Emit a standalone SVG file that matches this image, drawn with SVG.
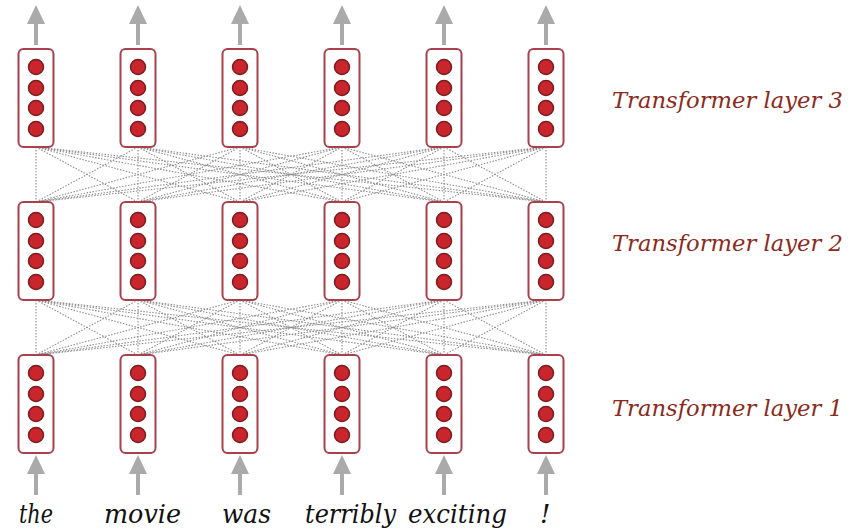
<svg xmlns="http://www.w3.org/2000/svg" width="858" height="530" viewBox="0 0 858 530">
<defs>
<style>
.box{fill:#fff;stroke:#a8414b;stroke-width:2}
.dot{fill:#c8262c;stroke:#7c1c1f;stroke-width:1.5}
.arrow{fill:#aaa}
.conn line{stroke:#8e8e8e;stroke-width:1.1;stroke-dasharray:1.5 1.5;fill:none}
.word{font-family:"DejaVu Serif","Liberation Serif",serif;font-style:italic;font-size:26px;fill:#111}
.label{font-family:"DejaVu Serif","Liberation Serif",serif;font-style:italic;font-size:22px;fill:#8b2a20}
</style>
<g id="vec">
<rect class="box" x="-17.5" y="0" width="35" height="98" rx="5"/>
<circle class="dot" cx="0" cy="18" r="7.5"/>
<circle class="dot" cx="0" cy="39" r="7.5"/>
<circle class="dot" cx="0" cy="59" r="7.5"/>
<circle class="dot" cx="0" cy="80" r="7.5"/>
</g>
<path id="arr" class="arrow" d="M0 0 L9 19 L2 19 L2 40 L-2 40 L-2 19 L-9 19 Z"/>
</defs>
<rect width="858" height="530" fill="#fff"/>

<g id="connectors" class="conn">
<line x1="36" y1="147" x2="36" y2="202"/><line x1="36" y1="147" x2="138" y2="202"/><line x1="36" y1="147" x2="240" y2="202"/><line x1="36" y1="147" x2="342" y2="202"/><line x1="36" y1="147" x2="444" y2="202"/><line x1="36" y1="147" x2="546" y2="202"/>
<line x1="138" y1="147" x2="36" y2="202"/><line x1="138" y1="147" x2="138" y2="202"/><line x1="138" y1="147" x2="240" y2="202"/><line x1="138" y1="147" x2="342" y2="202"/><line x1="138" y1="147" x2="444" y2="202"/><line x1="138" y1="147" x2="546" y2="202"/>
<line x1="240" y1="147" x2="36" y2="202"/><line x1="240" y1="147" x2="138" y2="202"/><line x1="240" y1="147" x2="240" y2="202"/><line x1="240" y1="147" x2="342" y2="202"/><line x1="240" y1="147" x2="444" y2="202"/><line x1="240" y1="147" x2="546" y2="202"/>
<line x1="342" y1="147" x2="36" y2="202"/><line x1="342" y1="147" x2="138" y2="202"/><line x1="342" y1="147" x2="240" y2="202"/><line x1="342" y1="147" x2="342" y2="202"/><line x1="342" y1="147" x2="444" y2="202"/><line x1="342" y1="147" x2="546" y2="202"/>
<line x1="444" y1="147" x2="36" y2="202"/><line x1="444" y1="147" x2="138" y2="202"/><line x1="444" y1="147" x2="240" y2="202"/><line x1="444" y1="147" x2="342" y2="202"/><line x1="444" y1="147" x2="444" y2="202"/><line x1="444" y1="147" x2="546" y2="202"/>
<line x1="546" y1="147" x2="36" y2="202"/><line x1="546" y1="147" x2="138" y2="202"/><line x1="546" y1="147" x2="240" y2="202"/><line x1="546" y1="147" x2="342" y2="202"/><line x1="546" y1="147" x2="444" y2="202"/><line x1="546" y1="147" x2="546" y2="202"/>

<line x1="36" y1="300" x2="36" y2="355"/><line x1="36" y1="300" x2="138" y2="355"/><line x1="36" y1="300" x2="240" y2="355"/><line x1="36" y1="300" x2="342" y2="355"/><line x1="36" y1="300" x2="444" y2="355"/><line x1="36" y1="300" x2="546" y2="355"/>
<line x1="138" y1="300" x2="36" y2="355"/><line x1="138" y1="300" x2="138" y2="355"/><line x1="138" y1="300" x2="240" y2="355"/><line x1="138" y1="300" x2="342" y2="355"/><line x1="138" y1="300" x2="444" y2="355"/><line x1="138" y1="300" x2="546" y2="355"/>
<line x1="240" y1="300" x2="36" y2="355"/><line x1="240" y1="300" x2="138" y2="355"/><line x1="240" y1="300" x2="240" y2="355"/><line x1="240" y1="300" x2="342" y2="355"/><line x1="240" y1="300" x2="444" y2="355"/><line x1="240" y1="300" x2="546" y2="355"/>
<line x1="342" y1="300" x2="36" y2="355"/><line x1="342" y1="300" x2="138" y2="355"/><line x1="342" y1="300" x2="240" y2="355"/><line x1="342" y1="300" x2="342" y2="355"/><line x1="342" y1="300" x2="444" y2="355"/><line x1="342" y1="300" x2="546" y2="355"/>
<line x1="444" y1="300" x2="36" y2="355"/><line x1="444" y1="300" x2="138" y2="355"/><line x1="444" y1="300" x2="240" y2="355"/><line x1="444" y1="300" x2="342" y2="355"/><line x1="444" y1="300" x2="444" y2="355"/><line x1="444" y1="300" x2="546" y2="355"/>
<line x1="546" y1="300" x2="36" y2="355"/><line x1="546" y1="300" x2="138" y2="355"/><line x1="546" y1="300" x2="240" y2="355"/><line x1="546" y1="300" x2="342" y2="355"/><line x1="546" y1="300" x2="444" y2="355"/><line x1="546" y1="300" x2="546" y2="355"/>
</g>

<g id="arrows">
<use href="#arr" x="36" y="5"/><use href="#arr" x="138" y="5"/><use href="#arr" x="240" y="5"/><use href="#arr" x="342" y="5"/><use href="#arr" x="444" y="5"/><use href="#arr" x="546" y="5"/>
<use href="#arr" x="36" y="455"/><use href="#arr" x="138" y="455"/><use href="#arr" x="240" y="455"/><use href="#arr" x="342" y="455"/><use href="#arr" x="444" y="455"/><use href="#arr" x="546" y="455"/>
</g>

<g id="layer3">
<g id="l3n1"><use href="#vec" x="36" y="49"/></g>
<g id="l3n2"><use href="#vec" x="138" y="49"/></g>
<g id="l3n3"><use href="#vec" x="240" y="49"/></g>
<g id="l3n4"><use href="#vec" x="342" y="49"/></g>
<g id="l3n5"><use href="#vec" x="444" y="49"/></g>
<g id="l3n6"><use href="#vec" x="546" y="49"/></g>
</g>
<g id="layer2">
<g id="l2n1"><use href="#vec" x="36" y="202"/></g>
<g id="l2n2"><use href="#vec" x="138" y="202"/></g>
<g id="l2n3"><use href="#vec" x="240" y="202"/></g>
<g id="l2n4"><use href="#vec" x="342" y="202"/></g>
<g id="l2n5"><use href="#vec" x="444" y="202"/></g>
<g id="l2n6"><use href="#vec" x="546" y="202"/></g>
</g>
<g id="layer1">
<g id="l1n1"><use href="#vec" x="36" y="355"/></g>
<g id="l1n2"><use href="#vec" x="138" y="355"/></g>
<g id="l1n3"><use href="#vec" x="240" y="355"/></g>
<g id="l1n4"><use href="#vec" x="342" y="355"/></g>
<g id="l1n5"><use href="#vec" x="444" y="355"/></g>
<g id="l1n6"><use href="#vec" x="546" y="355"/></g>
</g>

<g id="words">
<text class="word" x="19" y="523" textLength="34" lengthAdjust="spacingAndGlyphs">the</text>
<text class="word" x="104" y="523" textLength="77" lengthAdjust="spacingAndGlyphs">movie</text>
<text class="word" x="222" y="523" textLength="49" lengthAdjust="spacingAndGlyphs">was</text>
<text class="word" x="305" y="523" textLength="91" lengthAdjust="spacingAndGlyphs">terribly</text>
<text class="word" x="408" y="523" textLength="99" lengthAdjust="spacingAndGlyphs">exciting</text>
<text class="word" x="540" y="523">!</text>
</g>

<g id="labels">
<text class="label" x="612" y="108" textLength="231" lengthAdjust="spacingAndGlyphs">Transformer layer 3</text>
<text class="label" x="612" y="251" textLength="231" lengthAdjust="spacingAndGlyphs">Transformer layer 2</text>
<text class="label" x="612" y="416" textLength="231" lengthAdjust="spacingAndGlyphs">Transformer layer 1</text>
</g>
</svg>
